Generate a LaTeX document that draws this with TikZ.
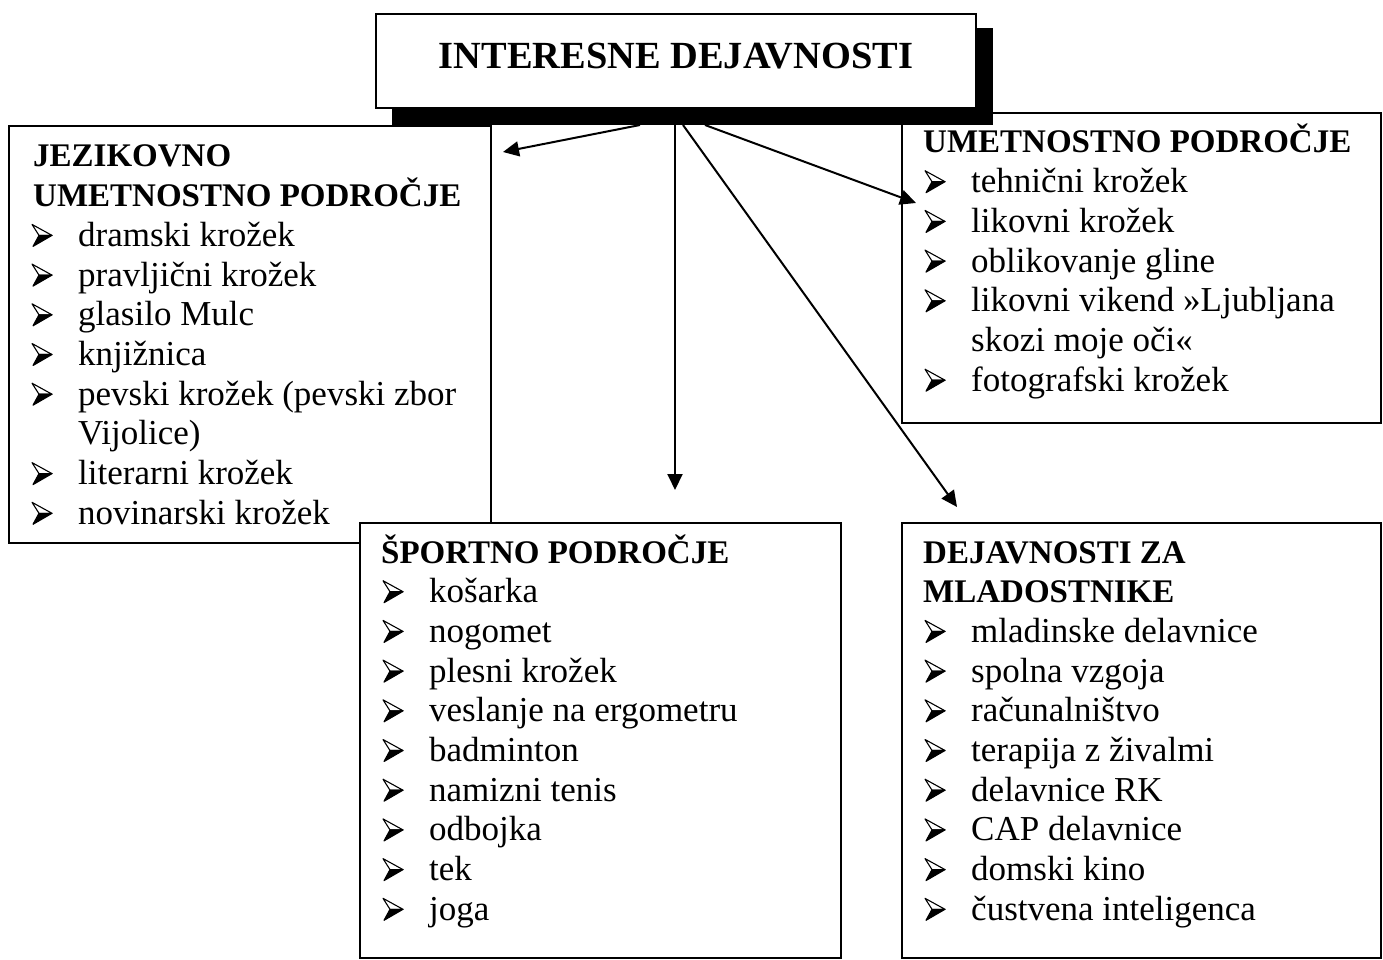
\documentclass[tikz,border=0pt]{standalone}
\usepackage{fontspec}
\setmainfont{Liberation Serif}
\usetikzlibrary{arrows.meta}
\tikzset{
  box/.style={draw, line width=1.5pt, fill=white, inner sep=0pt, outer sep=0pt, anchor=north west},
  shadowbox/.style={fill=black, draw=none, inner sep=0pt, outer sep=0pt, anchor=north west},
  txt/.style={anchor=base west, inner sep=0pt, font=\fontsize{35}{38}\selectfont},
  hd/.style={anchor=base west, inner sep=0pt, font=\fontsize{33}{38}\selectfont\bfseries},
  conn/.style={line width=2pt, -{Triangle[length=16pt,width=15pt]}},
  arrbul/.pic={
    \filldraw[fill=white, line width=1.1pt, line join=round] (0,-22) -- (20,-11) -- (7,-11) -- cycle;
    \filldraw[fill=black, line width=1.1pt, line join=round] (7,-11) -- (20,-11) -- (1,0) -- cycle;
  }
}
\newcommand\drawlist[6]{%
  \foreach \k/\t [count=\i] in {#6} {
    \pgfmathsetmacro\yy{#5+39.7*(\i-1)}
    \ifnum\k=0
      \node[hd] (#1-\i) at (#2,\yy) {\t};
    \else
      \ifnum\k=1 \pic at (#3,\yy) {arrbul}; \fi
      \node[txt] (#1-\i) at (#4,\yy) {\t};
    \fi
  }%
}
\begin{document}
\begin{tikzpicture}[x=1pt,y=-1pt]
\useasboundingbox (0,0) rectangle (1383,960);
% boxes
\node[box, minimum width=482pt, minimum height=417pt] (jez) at (9,126) {};
\node[box, minimum width=479pt, minimum height=310pt] (umet) at (902,113) {};
\node[box, minimum width=481pt, minimum height=435pt] (sport) at (360,523) {};
\node[box, minimum width=479pt, minimum height=435pt] (mlad) at (902,523) {};
% title
\node[shadowbox, minimum width=601pt, minimum height=97pt] (shadow) at (392,28) {};
\node[box, minimum width=600pt, minimum height=94pt] (title) at (376,14) {};
\node[anchor=base, inner sep=0pt, font=\fontsize{38.4}{40}\selectfont\bfseries] (ttext) at (676,69) {INTERESNE DEJAVNOSTI};
% lists
\drawlist{jl}{33}{32}{78}{167}{0/JEZIKOVNO, 0/UMETNOSTNO PODROČJE, 1/dramski krožek, 1/pravljični krožek, 1/glasilo Mulc, 1/knjižnica, 1/{pevski krožek (pevski zbor}, 2/{Vijolice)}, 1/literarni krožek, 1/novinarski krožek}
\drawlist{ul}{923}{925}{971}{153}{0/UMETNOSTNO PODROČJE, 1/tehnični krožek, 1/likovni krožek, 1/oblikovanje gline, 1/likovni vikend »Ljubljana, 2/skozi moje oči«, 1/fotografski krožek}
\drawlist{sl}{381}{383}{429}{563}{0/ŠPORTNO PODROČJE, 1/košarka, 1/nogomet, 1/plesni krožek, 1/veslanje na ergometru, 1/badminton, 1/namizni tenis, 1/odbojka, 1/tek, 1/joga}
\drawlist{ml}{923}{925}{971}{563}{0/DEJAVNOSTI ZA, 0/MLADOSTNIKE, 1/mladinske delavnice, 1/spolna vzgoja, 1/računalništvo, 1/terapija z živalmi, 1/delavnice RK, 1/CAP delavnice, 1/domski kino, 1/čustvena inteligenca}
% connectors
\coordinate (s1) at (640,125);
\coordinate (s2) at (675,125);
\coordinate (s3) at (683,125);
\coordinate (s4) at (705,125);
\coordinate (t1) at (503,152);
\coordinate (t2) at (675,490);
\coordinate (t3) at (957,507);
\coordinate (t4) at (916,203);
\draw[conn] (s1) -- (t1);
\draw[conn] (s2) -- (t2);
\draw[conn] (s3) -- (t3);
\draw[conn] (s4) -- (t4);
\end{tikzpicture}
\end{document}
